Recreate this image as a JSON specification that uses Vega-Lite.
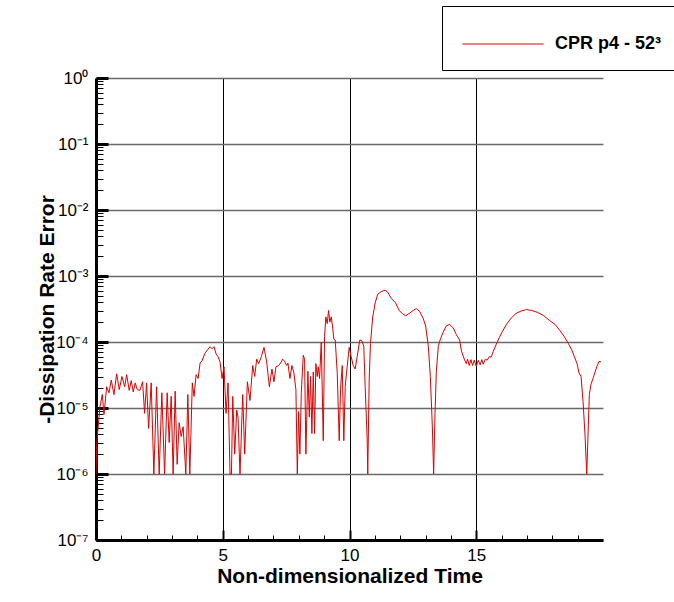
{
  "$schema": "https://vega.github.io/schema/vega-lite/v6.json",
  "width": 507,
  "height": 462,
  "autosize": {"type": "none"},
  "padding": {"left": 96, "top": 78, "right": 71, "bottom": 62},
  "background": "white",
  "config": {
    "view": {"stroke": null},
    "font": "Liberation Sans",
    "axis": {"labelFont": "Liberation Sans", "titleFont": "Liberation Sans"}
  },
  "datasets": {
    "curve": [
      {"t": 0.0, "v": 1e-6}, {"t": 0.03, "v": 3e-6}, {"t": 0.157, "v": 1.05e-5}, {"t": 0.248, "v": 1.6e-5},
      {"t": 0.315, "v": 8e-6}, {"t": 0.421, "v": 2.1e-5}, {"t": 0.512, "v": 1.7e-5}, {"t": 0.602, "v": 2.65e-5},
      {"t": 0.709, "v": 1.6e-5}, {"t": 0.815, "v": 3.3e-5}, {"t": 0.917, "v": 1.9e-5}, {"t": 1.024, "v": 3.0e-5},
      {"t": 1.13, "v": 2.1e-5}, {"t": 1.209, "v": 3.2e-5}, {"t": 1.311, "v": 1.85e-5}, {"t": 1.39, "v": 2.6e-5},
      {"t": 1.469, "v": 1.75e-5}, {"t": 1.547, "v": 2.4e-5}, {"t": 1.626, "v": 1.9e-5}, {"t": 1.732, "v": 1.85e-5},
      {"t": 1.839, "v": 2.5e-5}, {"t": 1.917, "v": 8.3e-6}, {"t": 1.996, "v": 2.4e-5}, {"t": 2.075, "v": 4.9e-6},
      {"t": 2.177, "v": 2.4e-5}, {"t": 2.283, "v": 1e-6}, {"t": 2.39, "v": 2.1e-5}, {"t": 2.492, "v": 1e-6},
      {"t": 2.598, "v": 1.7e-5}, {"t": 2.705, "v": 1e-6}, {"t": 2.807, "v": 1.7e-5}, {"t": 2.886, "v": 3e-6},
      {"t": 2.965, "v": 1.5e-5}, {"t": 3.043, "v": 1e-6}, {"t": 3.122, "v": 1.8e-5}, {"t": 3.201, "v": 1.4e-6},
      {"t": 3.28, "v": 6e-6}, {"t": 3.358, "v": 3.7e-6}, {"t": 3.437, "v": 5.2e-6}, {"t": 3.543, "v": 1e-6},
      {"t": 3.622, "v": 1.6e-5}, {"t": 3.701, "v": 1e-6}, {"t": 3.799, "v": 2.4e-5}, {"t": 3.87, "v": 1.5e-5},
      {"t": 3.949, "v": 3.2e-5}, {"t": 4.028, "v": 2.8e-5}, {"t": 4.106, "v": 4.8e-5}, {"t": 4.185, "v": 5.2e-5},
      {"t": 4.291, "v": 6.7e-5}, {"t": 4.398, "v": 7.6e-5}, {"t": 4.5, "v": 8.5e-5}, {"t": 4.579, "v": 7.9e-5},
      {"t": 4.657, "v": 8.5e-5}, {"t": 4.736, "v": 6.6e-5}, {"t": 4.815, "v": 6e-5}, {"t": 4.894, "v": 5.0e-5},
      {"t": 4.972, "v": 2.8e-5}, {"t": 5.051, "v": 4.2e-5}, {"t": 5.13, "v": 8.3e-6}, {"t": 5.209, "v": 2.4e-5},
      {"t": 5.287, "v": 1e-6}, {"t": 5.343, "v": 1e-6}, {"t": 5.394, "v": 1.5e-5}, {"t": 5.472, "v": 2e-6},
      {"t": 5.551, "v": 9.3e-6}, {"t": 5.602, "v": 7.3e-6}, {"t": 5.681, "v": 1e-6}, {"t": 5.787, "v": 1.6e-5},
      {"t": 5.866, "v": 2e-6}, {"t": 5.972, "v": 2.5e-5}, {"t": 6.075, "v": 1.3e-5}, {"t": 6.181, "v": 4.4e-5},
      {"t": 6.26, "v": 3e-5}, {"t": 6.339, "v": 5.5e-5}, {"t": 6.417, "v": 4.7e-5}, {"t": 6.524, "v": 6e-5},
      {"t": 6.626, "v": 8.3e-5}, {"t": 6.732, "v": 5e-5}, {"t": 6.839, "v": 2.1e-5}, {"t": 6.941, "v": 3.9e-5},
      {"t": 7.02, "v": 2.5e-5}, {"t": 7.098, "v": 4.2e-5}, {"t": 7.205, "v": 4.4e-5}, {"t": 7.283, "v": 4.8e-5},
      {"t": 7.362, "v": 5.5e-5}, {"t": 7.441, "v": 5.1e-5}, {"t": 7.52, "v": 4.4e-5}, {"t": 7.571, "v": 4.8e-5},
      {"t": 7.65, "v": 2.8e-5}, {"t": 7.728, "v": 4.4e-5}, {"t": 7.807, "v": 3.4e-5}, {"t": 7.886, "v": 1.9e-5},
      {"t": 7.941, "v": 1e-6}, {"t": 7.992, "v": 8.8e-6}, {"t": 8.043, "v": 2e-6}, {"t": 8.098, "v": 1.7e-5},
      {"t": 8.177, "v": 6.3e-5}, {"t": 8.228, "v": 5.5e-5}, {"t": 8.28, "v": 2e-6}, {"t": 8.358, "v": 3.6e-5},
      {"t": 8.413, "v": 7.3e-6}, {"t": 8.465, "v": 3e-5}, {"t": 8.516, "v": 4.1e-6}, {"t": 8.571, "v": 3.5e-5},
      {"t": 8.622, "v": 4.1e-6}, {"t": 8.673, "v": 4.7e-5}, {"t": 8.728, "v": 3e-5}, {"t": 8.768, "v": 4.2e-5},
      {"t": 8.819, "v": 2.8e-5}, {"t": 8.886, "v": 1.0e-4}, {"t": 8.965, "v": 3.2e-6}, {"t": 9.016, "v": 1.2e-4},
      {"t": 9.067, "v": 2.4e-4}, {"t": 9.122, "v": 1.9e-4}, {"t": 9.173, "v": 3.0e-4}, {"t": 9.224, "v": 2.0e-4},
      {"t": 9.28, "v": 2.4e-4}, {"t": 9.331, "v": 1.75e-4}, {"t": 9.382, "v": 1.1e-4}, {"t": 9.437, "v": 1.07e-4},
      {"t": 9.516, "v": 3.4e-5}, {"t": 9.594, "v": 3.2e-6}, {"t": 9.646, "v": 1.9e-5}, {"t": 9.713, "v": 4.4e-5},
      {"t": 9.776, "v": 3.2e-6}, {"t": 9.831, "v": 2.1e-5}, {"t": 9.909, "v": 4.3e-5}, {"t": 9.988, "v": 8.3e-5},
      {"t": 10.067, "v": 6e-5}, {"t": 10.146, "v": 4.4e-5}, {"t": 10.224, "v": 3.9e-5}, {"t": 10.303, "v": 6e-5},
      {"t": 10.406, "v": 1.07e-4}, {"t": 10.484, "v": 1.05e-4}, {"t": 10.563, "v": 8.6e-5}, {"t": 10.618, "v": 2.1e-5},
      {"t": 10.697, "v": 3.4e-6}, {"t": 10.72, "v": 1e-6}, {"t": 10.776, "v": 2.65e-5}, {"t": 10.827, "v": 9.5e-5},
      {"t": 10.917, "v": 2.4e-4}, {"t": 11.012, "v": 3.9e-4}, {"t": 11.114, "v": 5.3e-4}, {"t": 11.248, "v": 5.8e-4},
      {"t": 11.406, "v": 6.1e-4}, {"t": 11.508, "v": 5.7e-4}, {"t": 11.642, "v": 4.6e-4}, {"t": 11.823, "v": 3.9e-4},
      {"t": 11.957, "v": 3.0e-4}, {"t": 12.087, "v": 2.7e-4}, {"t": 12.217, "v": 2.5e-4}, {"t": 12.35, "v": 2.7e-4},
      {"t": 12.508, "v": 3.0e-4}, {"t": 12.638, "v": 3.2e-4}, {"t": 12.768, "v": 2.9e-4}, {"t": 12.902, "v": 2.3e-4},
      {"t": 13.004, "v": 1.75e-4}, {"t": 13.11, "v": 8.6e-5}, {"t": 13.189, "v": 3.0e-5}, {"t": 13.268, "v": 5.2e-6},
      {"t": 13.319, "v": 1e-6}, {"t": 13.374, "v": 8.3e-6}, {"t": 13.425, "v": 3.6e-5}, {"t": 13.504, "v": 8.6e-5},
      {"t": 13.583, "v": 1.1e-4}, {"t": 13.689, "v": 1.4e-4}, {"t": 13.819, "v": 1.75e-4}, {"t": 13.949, "v": 1.85e-4},
      {"t": 14.083, "v": 1.65e-4}, {"t": 14.213, "v": 1.3e-4}, {"t": 14.343, "v": 1.07e-4}, {"t": 14.421, "v": 7.2e-5},
      {"t": 14.528, "v": 5.5e-5}, {"t": 14.606, "v": 4.7e-5}, {"t": 14.657, "v": 5.5e-5}, {"t": 14.724, "v": 4.4e-5},
      {"t": 14.791, "v": 5.4e-5}, {"t": 14.854, "v": 4.4e-5}, {"t": 14.921, "v": 5.3e-5}, {"t": 15.0, "v": 4.3e-5},
      {"t": 15.079, "v": 5.3e-5}, {"t": 15.157, "v": 4.5e-5}, {"t": 15.217, "v": 5.4e-5}, {"t": 15.276, "v": 4.6e-5},
      {"t": 15.354, "v": 5.5e-5}, {"t": 15.433, "v": 5.3e-5}, {"t": 15.512, "v": 6e-5}, {"t": 15.591, "v": 5.9e-5},
      {"t": 15.669, "v": 7.2e-5}, {"t": 15.776, "v": 9e-5}, {"t": 15.906, "v": 1.16e-4}, {"t": 16.035, "v": 1.45e-4},
      {"t": 16.193, "v": 1.85e-4}, {"t": 16.378, "v": 2.3e-4}, {"t": 16.563, "v": 2.7e-4}, {"t": 16.772, "v": 2.95e-4},
      {"t": 16.98, "v": 3.1e-4}, {"t": 17.193, "v": 3.0e-4}, {"t": 17.429, "v": 2.8e-4}, {"t": 17.665, "v": 2.5e-4},
      {"t": 17.902, "v": 2.1e-4}, {"t": 18.11, "v": 1.85e-4}, {"t": 18.295, "v": 1.5e-4}, {"t": 18.476, "v": 1.2e-4},
      {"t": 18.634, "v": 9.5e-5}, {"t": 18.768, "v": 7.6e-5}, {"t": 18.87, "v": 6e-5}, {"t": 18.976, "v": 4.7e-5},
      {"t": 19.055, "v": 3.4e-5}, {"t": 19.134, "v": 3e-5}, {"t": 19.213, "v": 1.25e-5}, {"t": 19.291, "v": 3.9e-6},
      {"t": 19.358, "v": 1e-6}, {"t": 19.409, "v": 3.9e-6}, {"t": 19.461, "v": 1.6e-5}, {"t": 19.528, "v": 2.3e-5},
      {"t": 19.606, "v": 2.8e-5}, {"t": 19.685, "v": 3.5e-5}, {"t": 19.764, "v": 4.3e-5}, {"t": 19.843, "v": 5.1e-5},
      {"t": 19.921, "v": 5e-5}
    ]
  },
  "resolve": {"axis": {"x": "independent", "y": "independent"}},
  "layer": [
    {
      "data": {"name": "curve"},
      "mark": {"type": "line", "strokeWidth": 1, "clip": true},
      "encoding": {
        "x": {
          "field": "t", "type": "quantitative",
          "scale": {"domain": [0, 20], "nice": false, "zero": false},
          "axis": {
            "orient": "bottom",
            "values": [0, 5, 10, 15],
            "grid": true, "gridColor": "black", "gridWidth": 1, "gridOpacity": 1,
            "domain": true, "domainColor": "black", "domainWidth": 3,
            "ticks": true, "tickSize": -10, "tickWidth": 2, "tickColor": "black",
            "labelPadding": 17, "labelFontSize": 17, "labelColor": "black",
            "labelFlush": false, "labelOverlap": false,
            "title": "Non-dimensionalized Time",
            "titleFontSize": 21, "titleFontWeight": "bold", "titleColor": "black",
            "titleY": 42, "titleBaseline": "alphabetic"
          }
        },
        "y": {
          "field": "v", "type": "quantitative",
          "scale": {"type": "log", "domain": [1e-7, 1], "nice": false},
          "axis": {
            "orient": "left",
            "values": [1e-7, 1e-6, 1e-5, 1e-4, 1e-3, 1e-2, 1e-1, 1],
            "labelExpr": "'10' + ['⁰','⁻¹','⁻²','⁻³','⁻⁴','⁻⁵','⁻⁶','⁻⁷'][round(-log(datum.value)/LN10)]",
            "grid": true, "gridColor": "#6a6a6a", "gridWidth": 1.6, "gridOpacity": 1,
            "domain": true, "domainColor": "black", "domainWidth": 3,
            "ticks": true, "tickSize": -12, "tickWidth": 3, "tickColor": "black",
            "labelPadding": 20, "labelFontSize": 17, "labelColor": "black",
            "labelFlush": false, "labelOverlap": false, "labelBaseline": "middle",
            "title": "-Dissipation Rate Error",
            "titleFontSize": 21, "titleFontWeight": "bold", "titleColor": "black",
            "titleAngle": 270, "titleBaseline": "alphabetic", "titleAlign": "center",
            "titleX": -43
          }
        },
        "color": {
          "datum": "CPR p4 - 52³",
          "type": "nominal",
          "scale": {"range": ["#e00000"]},
          "legend": {
            "orient": "none", "legendX": 346, "legendY": -72,
            "title": " ", "titleFontSize": 10, "titlePadding": 2,
            "symbolType": "M-5.8,0H5.8", "symbolSize": 196, "symbolStrokeWidth": 1, "symbolOffset": 35,
            "labelFont": "Liberation Sans", "labelFontSize": 18, "labelFontWeight": "bold", "labelColor": "black",
            "labelOffset": 43,
            "strokeColor": "black", "fillColor": "white", "padding": 17
          }
        }
      }
    },
    {
      "data": {"name": "curve"},
      "mark": {"type": "point", "opacity": 0},
      "encoding": {
        "x": {
          "field": "t", "type": "quantitative",
          "axis": {
            "orient": "bottom",
            "values": [1, 2, 3, 4, 6, 7, 8, 9, 11, 12, 13, 14, 16, 17, 18, 19],
            "grid": false, "domain": false, "labels": false, "title": null,
            "ticks": true, "tickSize": -5, "tickWidth": 1, "tickColor": "black"
          }
        },
        "y": {
          "field": "v", "type": "quantitative",
          "axis": {
            "orient": "left",
            "values": [2e-7, 3e-7, 4e-7, 5e-7, 6e-7, 7e-7, 8e-7, 9e-7,
                       2e-6, 3e-6, 4e-6, 5e-6, 6e-6, 7e-6, 8e-6, 9e-6,
                       2e-5, 3e-5, 4e-5, 5e-5, 6e-5, 7e-5, 8e-5, 9e-5,
                       2e-4, 3e-4, 4e-4, 5e-4, 6e-4, 7e-4, 8e-4, 9e-4,
                       2e-3, 3e-3, 4e-3, 5e-3, 6e-3, 7e-3, 8e-3, 9e-3,
                       2e-2, 3e-2, 4e-2, 5e-2, 6e-2, 7e-2, 8e-2, 9e-2,
                       2e-1, 3e-1, 4e-1, 5e-1, 6e-1, 7e-1, 8e-1, 9e-1],
            "grid": false, "domain": false, "labels": false, "title": null,
            "ticks": true, "tickSize": -7, "tickWidth": 1, "tickColor": "black"
          }
        }
      }
    }
  ]
}
